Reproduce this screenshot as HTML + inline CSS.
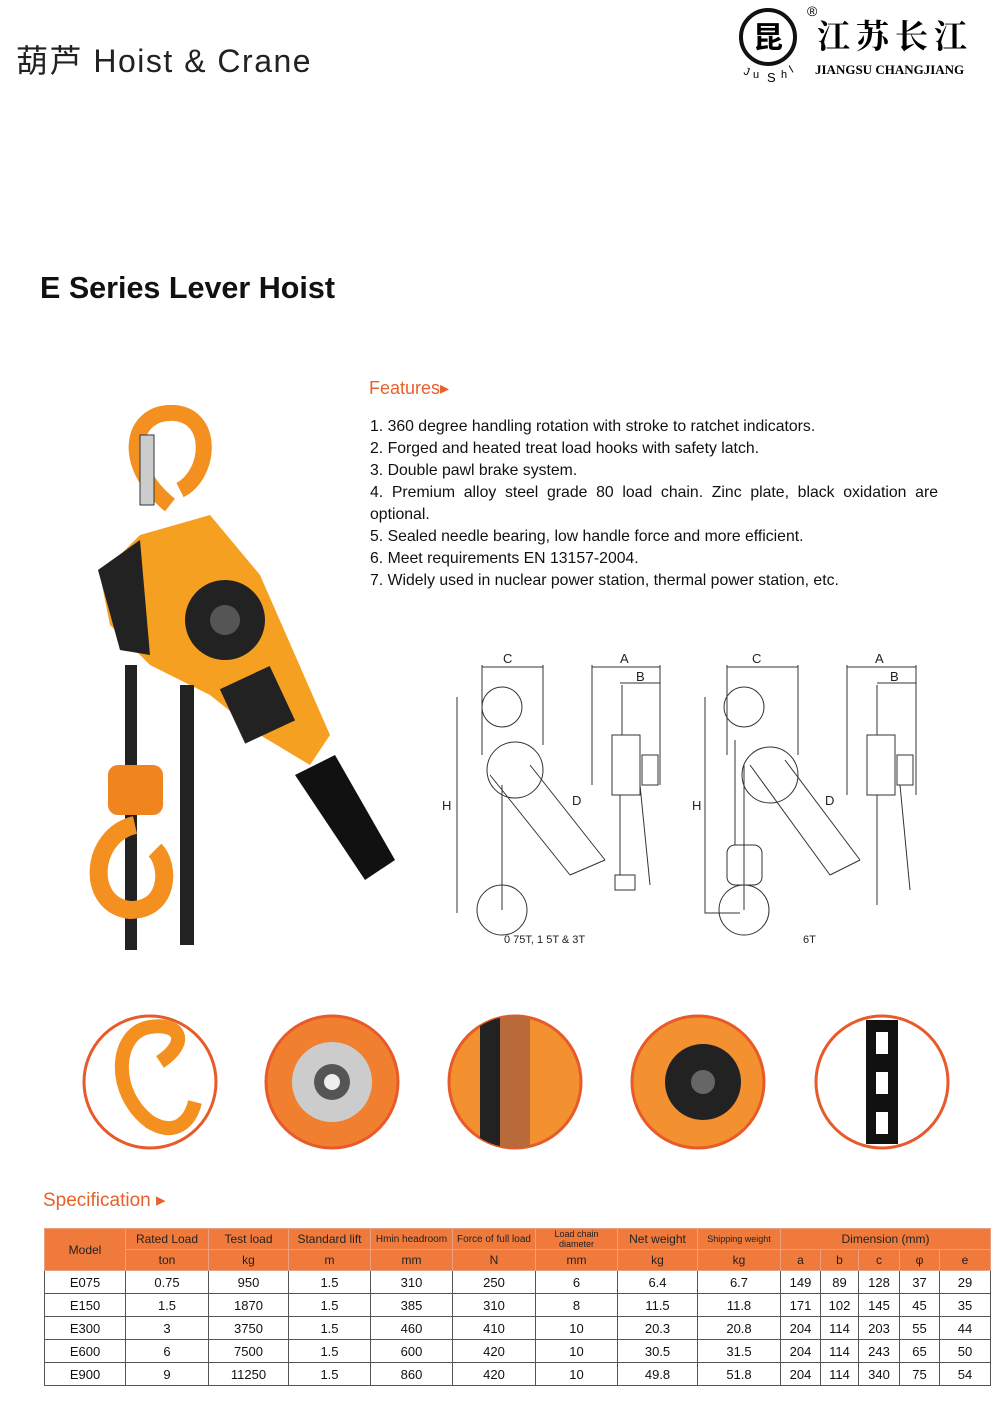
<!DOCTYPE html>
<html><head><meta charset="utf-8"><style>
body{margin:0;width:1000px;height:1427px;background:#fff;position:relative;font-family:"Liberation Sans","Noto Sans CJK SC",sans-serif;overflow:hidden}
.a{position:absolute}
table{position:absolute;left:44px;top:1228px;border-collapse:collapse;table-layout:fixed;font-size:13px}
td{border:1px solid #555;text-align:center;padding:0;height:22px;color:#111}
thead td{background:#f07a3c;color:#222;border-color:#e8a080;height:20px;font-size:12px}
.feat div{height:22px;white-space:nowrap}
</style></head><body>
<div class="a" style="left:16px;top:36px;font-size:32px;color:#222;letter-spacing:1.5px">葫芦 Hoist &amp; Crane</div>
<svg class="a" style="left:735px;top:0" width="265" height="90">
<circle cx="33" cy="37" r="27" fill="none" stroke="#111" stroke-width="4"/>
<text x="33" y="48" font-size="30" text-anchor="middle" font-family="Noto Sans CJK SC" font-weight="bold">昆</text>
<text x="72" y="16" font-size="14">®</text>
<text x="8" y="74" font-size="11" transform="rotate(20 8 74)">J</text>
<text x="18" y="78" font-size="11">u</text><text x="32" y="82" font-size="13">S</text><text x="46" y="78" font-size="11">h</text><text x="57" y="73" font-size="11" transform="rotate(-30 57 73)">l</text>
<text x="82" y="48" font-size="33" font-family="Noto Serif CJK SC" font-weight="bold" letter-spacing="6">江苏长江</text>
<text x="80" y="74" font-size="13" font-family="Liberation Serif" font-weight="bold">JIANGSU CHANGJIANG</text>
</svg>
<div class="a" style="left:40px;top:271px;font-size:30.5px;font-weight:bold;color:#111">E Series Lever Hoist</div>
<div class="a" style="left:369px;top:378px;font-size:18px;color:#e8602a">Features▸</div>
<div class="a feat" style="left:370px;top:416px;font-size:15.8px;color:#111;width:568px;line-height:22px">
<div>1. 360 degree handling rotation with stroke to ratchet indicators.</div>
<div>2. Forged and heated treat load hooks with safety latch.</div>
<div>3. Double pawl brake system.</div>
<div style="white-space:normal;text-align:justify;text-align-last:left;height:44px">4. Premium alloy steel grade 80 load chain. Zinc plate, black oxidation are optional.</div>
<div>5. Sealed needle bearing, low handle force and more efficient.</div>
<div>6. Meet requirements EN 13157-2004.</div>
<div>7. Widely used in nuclear power station, thermal power station, etc.</div>
</div>
<!-- hoist photo -->
<svg class="a" style="left:80px;top:405px" width="320" height="545">
<path d="M90 100 C40 60 50 5 95 8 C135 12 130 70 100 85" fill="none" stroke="#f39020" stroke-width="16"/>
<rect x="60" y="30" width="14" height="70" fill="#ccc" stroke="#333"/>
<path d="M20 170 L60 130 L130 110 L180 170 L250 330 L230 360 L180 330 L130 290 L70 260 L30 220Z" fill="#f5a020"/>
<path d="M18 165 L60 135 L70 250 L40 245Z" fill="#222"/>
<circle cx="145" cy="215" r="40" fill="#222"/><circle cx="145" cy="215" r="15" fill="#555"/>
<rect x="150" y="270" width="55" height="60" fill="#222" transform="rotate(-25 177 300)"/>
<path d="M215 370 L255 350 L315 455 L285 475Z" fill="#111"/>
<rect x="45" y="260" width="12" height="290" fill="#222"/>
<rect x="100" y="280" width="14" height="260" fill="#222"/>
<rect x="28" y="360" width="55" height="50" rx="10" fill="#f0851f"/>
<path d="M55 420 C10 430 5 500 50 505 C90 505 90 460 75 445" fill="none" stroke="#f39020" stroke-width="18"/>
</svg>
<!-- drawings -->
<svg class="a" style="left:440px;top:645px" width="500" height="305" fill="none" stroke="#333" stroke-width="1">
<g font-family="Liberation Sans" font-size="13" fill="#222" stroke="none">
<text x="63" y="18">C</text><text x="180" y="18">A</text><text x="196" y="36">B</text><text x="2" y="165">H</text><text x="132" y="160">D</text>
<text x="312" y="18">C</text><text x="435" y="18">A</text><text x="450" y="36">B</text><text x="252" y="165">H</text><text x="385" y="160">D</text>
<text x="64" y="298" font-size="11">0 75T, 1 5T &amp; 3T</text><text x="363" y="298" font-size="11">6T</text>
</g>
<path d="M42 20V110M103 20V100M42 22H103M152 20V140M220 20V140M152 22H220M180 38H220M17 52V268"/>
<circle cx="62" cy="62" r="20"/><circle cx="75" cy="125" r="28"/>
<path d="M50 130L130 230M90 120L165 215M130 230L165 215M62 140V265"/>
<circle cx="62" cy="265" r="25"/>
<path d="M182 40V90M172 90H200V150H172ZM202 110H218V140H202ZM180 150V230M175 230H195V245H175ZM200 140L210 240"/>
<path d="M287 20V110M358 20V110M287 22H358M407 20V150M476 20V150M407 22H476M437 38H476M265 52V268H300"/>
<circle cx="304" cy="62" r="20"/><circle cx="330" cy="130" r="28"/>
<path d="M310 120L390 230M345 115L420 215M390 230L420 215M304 120V265M295 95V200"/>
<circle cx="304" cy="265" r="25"/><rect x="287" y="200" width="35" height="40" rx="8"/>
<path d="M437 40V90M427 90H455V150H427ZM457 110H473V140H457ZM437 150V260M460 140L470 245"/>
</svg>
<!-- circles -->
<svg class="a" style="left:0;top:1005px" width="1000" height="150">
<defs><clipPath id="c"><circle r="66"/></clipPath></defs>
<g transform="translate(150,77)"><circle r="66" fill="#fff" stroke="#e85a2a" stroke-width="3"/><path d="M10 -20 C40 -40 30 -60 0 -55 C-35 -50 -40 10 0 40 C25 55 40 40 45 20" fill="none" stroke="#f39020" stroke-width="14"/></g>
<g transform="translate(332,77)"><circle r="66" fill="#f08030" stroke="#e85a2a" stroke-width="3"/><circle r="40" fill="#ccc"/><circle r="18" fill="#555"/><circle r="8" fill="#eee"/></g>
<g transform="translate(515,77)"><circle r="66" fill="#f39030" stroke="#e85a2a" stroke-width="3"/><rect x="-35" y="-66" width="20" height="132" fill="#222" clip-path="url(#c)"/><rect x="-15" y="-66" width="30" height="132" fill="#b86a3a" clip-path="url(#c)"/></g>
<g transform="translate(698,77)"><circle r="66" fill="#f39030" stroke="#e85a2a" stroke-width="3"/><circle cx="5" cy="0" r="38" fill="#222"/><circle cx="5" cy="0" r="12" fill="#666"/></g>
<g transform="translate(882,77)"><circle r="66" fill="#fff" stroke="#e85a2a" stroke-width="3"/><rect x="-16" y="-62" width="32" height="124" fill="#111"/><rect x="-6" y="-50" width="12" height="22" fill="#fff"/><rect x="-6" y="-10" width="12" height="22" fill="#fff"/><rect x="-6" y="30" width="12" height="22" fill="#fff"/></g>
</svg>
<div class="a" style="left:43px;top:1189px;font-size:19px;color:#e8602a">Specification ▸</div>
<table>
<colgroup><col style="width:81px"><col style="width:83px"><col style="width:80px"><col style="width:82px"><col style="width:82px"><col style="width:83px"><col style="width:82px"><col style="width:80px"><col style="width:83px"><col style="width:40px"><col style="width:38px"><col style="width:41px"><col style="width:40px"><col style="width:51px"></colgroup>
<thead>
<tr><td rowspan="2">Model</td><td>Rated Load</td><td>Test load</td><td>Standard lift</td><td style="font-size:10px">Hmin headroom</td><td style="font-size:10px">Force of full load</td><td style="font-size:9px">Load chain diameter</td><td>Net weight</td><td style="font-size:9px">Shipping weight</td><td colspan="5">Dimension (mm)</td></tr>
<tr><td>ton</td><td>kg</td><td>m</td><td>mm</td><td>N</td><td>mm</td><td>kg</td><td>kg</td><td>a</td><td>b</td><td>c</td><td>φ</td><td>e</td></tr>
</thead>
<tbody>
<tr><td>E075</td><td>0.75</td><td>950</td><td>1.5</td><td>310</td><td>250</td><td>6</td><td>6.4</td><td>6.7</td><td>149</td><td>89</td><td>128</td><td>37</td><td>29</td></tr>
<tr><td>E150</td><td>1.5</td><td>1870</td><td>1.5</td><td>385</td><td>310</td><td>8</td><td>11.5</td><td>11.8</td><td>171</td><td>102</td><td>145</td><td>45</td><td>35</td></tr>
<tr><td>E300</td><td>3</td><td>3750</td><td>1.5</td><td>460</td><td>410</td><td>10</td><td>20.3</td><td>20.8</td><td>204</td><td>114</td><td>203</td><td>55</td><td>44</td></tr>
<tr><td>E600</td><td>6</td><td>7500</td><td>1.5</td><td>600</td><td>420</td><td>10</td><td>30.5</td><td>31.5</td><td>204</td><td>114</td><td>243</td><td>65</td><td>50</td></tr>
<tr><td>E900</td><td>9</td><td>11250</td><td>1.5</td><td>860</td><td>420</td><td>10</td><td>49.8</td><td>51.8</td><td>204</td><td>114</td><td>340</td><td>75</td><td>54</td></tr>
</tbody></table>
</body></html>
